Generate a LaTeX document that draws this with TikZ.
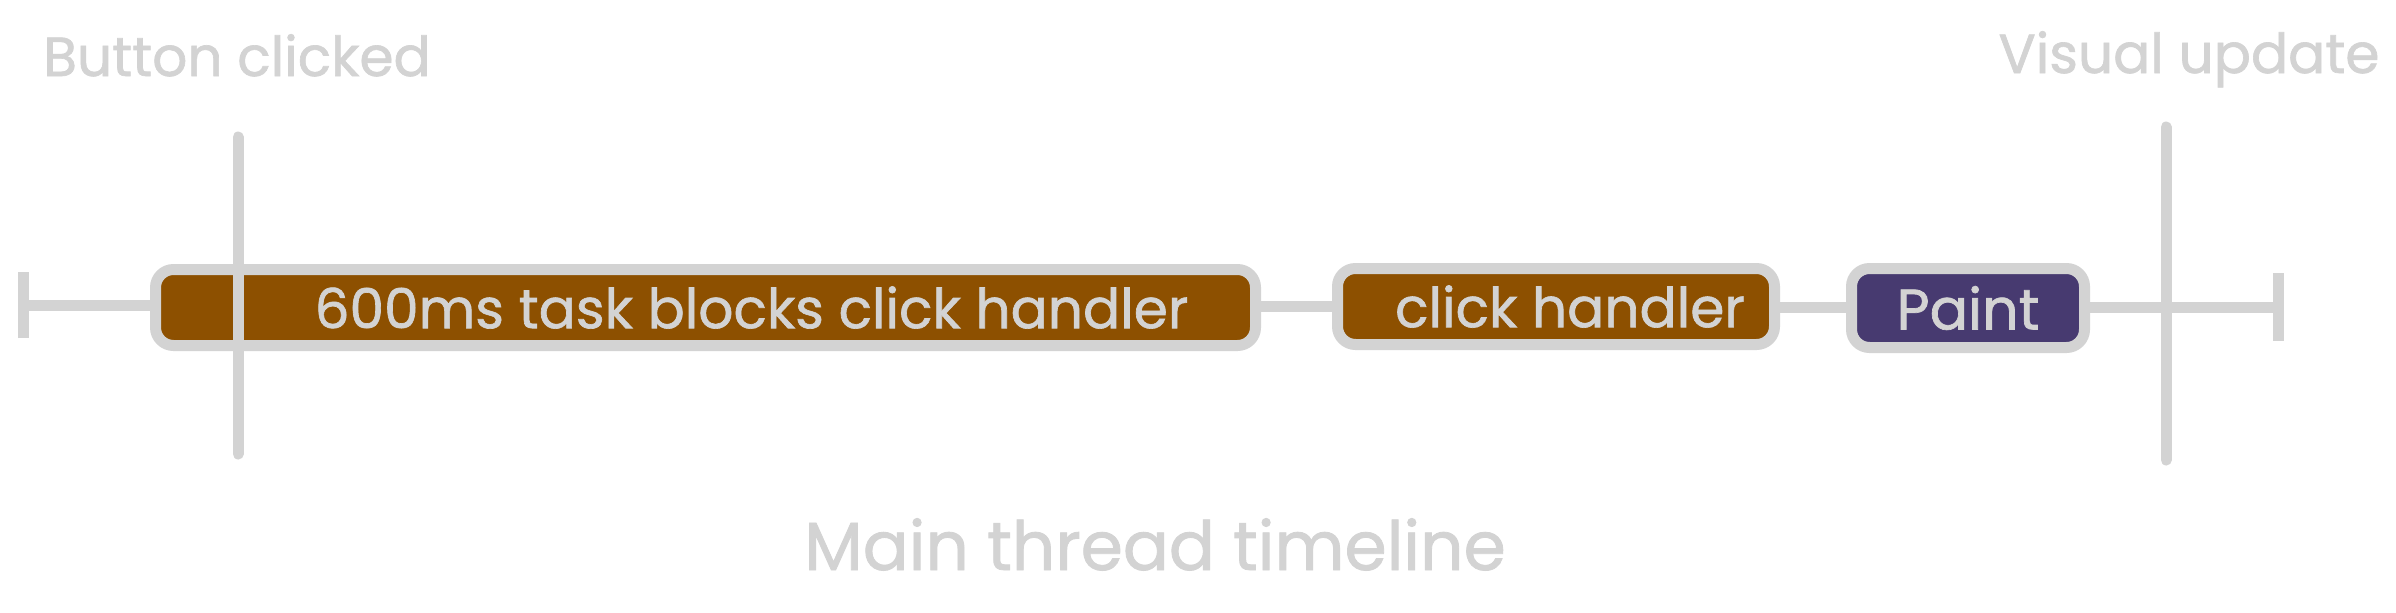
\documentclass[tikz,border=0pt]{standalone}
\usepackage{fontspec}
\setmainfont{Poppins}[FakeBold=1.2]
\usetikzlibrary{arrows.meta}
\definecolor{lgray}{HTML}{D3D3D3}
\definecolor{taskbrown}{HTML}{8D5000}
\definecolor{paintpurple}{HTML}{473A70}
\tikzset{
  grayline/.style={draw=lgray, line width=11pt, line cap=round},
  taskbox/.style={draw=lgray, line width=11pt, rounded corners=18pt, inner sep=0pt, text=lgray,
    font=\fontsize{55}{60}\selectfont},
  label/.style={text=lgray, inner sep=0pt, anchor=base, font=\fontsize{55}{60}\selectfont},
  timeline/.style={grayline, line cap=butt},
}
\begin{document}
\begin{tikzpicture}[x=1pt,y=-1pt]
\useasboundingbox (0,0) rectangle (2396,613);
\fill[white] (0,0) rectangle (2396,613);
% boxes
\node[taskbox, fill=taskbrown, minimum width=1100pt, minimum height=76pt] (b1) at (705.5,307.5) {\hspace*{92pt}600ms task blocks click handler};
\node[taskbox, fill=taskbrown, minimum width=437pt, minimum height=76pt] (b2) at (1556,306.5) {\hspace*{28pt}click handler};
\node[taskbox, fill=paintpurple, minimum width=233pt, minimum height=79pt, font=\fontsize{57}{60}\selectfont] (b3) at (1968,308) {Paint};
% timeline
\coordinate (L) at (18,305);
\coordinate (R) at (2284,307);
\draw[timeline, {Bar[width=66pt,line width=11pt]}-] (L) -- (b1.west |- L);
\draw[timeline] (b1.east |- 0,306) -- (b2.west |- 0,306);
\draw[timeline] (b2.east |- 0,307) -- (b3.west |- 0,307);
\draw[timeline, -{Bar[width=68pt,line width=11pt]}] (b3.east |- R) -- (R);
% markers
\coordinate (c1t) at (238,137);
\coordinate (c1b) at (238,454);
\coordinate (c2t) at (2166,127);
\coordinate (c2b) at (2166,460);
\draw[grayline] (c1t) -- (c1b);
\draw[grayline] (c2t) -- (c2b);
% labels
\node[label] (lbtn) at (237,76) {Button clicked};
\node[label] (lvis) at (2189,73) {Visual update};
\node[label, font=\fontsize{68}{72}\selectfont] (lmain) at (1155,570) {Main thread timeline};
\end{tikzpicture}
\end{document}
